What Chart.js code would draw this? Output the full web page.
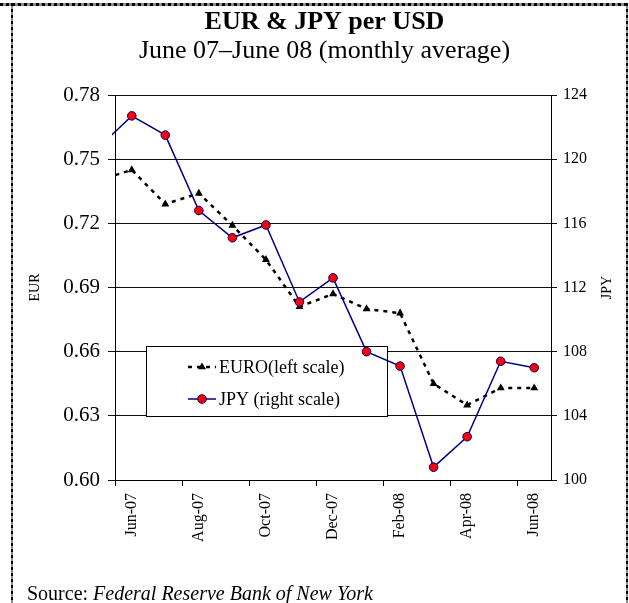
<!DOCTYPE html>
<html>
<head>
<meta charset="utf-8">
<title>EUR & JPY per USD</title>
<script src="https://cdn.jsdelivr.net/npm/chart.js@4.4.1/dist/chart.umd.min.js"></script>
<style>
  body { margin: 0; background: #fff; }
  canvas { display: block; }
</style>
</head>
<body>
<canvas id="fx" width="629" height="603"></canvas>
<script>
// monthly averages, May-07 sits just off the left edge of the plot
const months = ['May-07', 'Jun-07', 'Jul-07', 'Aug-07', 'Sep-07', 'Oct-07', 'Nov-07',
                'Dec-07', 'Jan-08', 'Feb-08', 'Mar-08', 'Apr-08', 'May-08', 'Jun-08'];
const euro = [0.740, 0.745, 0.729, 0.734, 0.719, 0.703, 0.681,
              0.687, 0.680, 0.678, 0.645, 0.635, 0.643, 0.643];
const jpy = [120.7, 122.7, 121.5, 116.8, 115.1, 115.9, 111.1,
             112.6, 108.0, 107.1, 100.8, 102.7, 107.4, 107.0];

const eurTicks = [0.60, 0.63, 0.66, 0.69, 0.72, 0.75, 0.78];
const jpyTicks = [100, 104, 108, 112, 116, 120, 124];
const labelSteps = [0, 2, 4, 6, 8, 10, 12];   // Jun-07, Aug-07, ... Jun-08

const serif = "'Liberation Serif', 'Times New Roman', serif";
Chart.defaults.font.family = serif;
Chart.defaults.color = '#000';

const toPoints = vals => vals.map((v, i) => ({ x: i - 1, y: v }));

// white page, tick marks between label pairs, axis titles, source line, dashed frame
const pageDecor = {
  id: 'pageDecor',
  beforeDraw(chart) {
    const ctx = chart.ctx;
    ctx.save();
    ctx.fillStyle = '#fff';
    ctx.fillRect(0, 0, chart.width, chart.height);
    ctx.restore();
  },
  afterDraw(chart) {
    const ctx = chart.ctx;
    const area = chart.chartArea;
    const xs = chart.scales.x;
    ctx.save();

    ctx.strokeStyle = '#000';
    ctx.lineWidth = 1;
    ctx.beginPath();
    for (let v = -0.5; v < 12; v += 2) {
      const px = Math.round(xs.getPixelForValue(v)) + 0.5;
      ctx.moveTo(px, area.bottom);
      ctx.lineTo(px, area.bottom + 6);
    }
    ctx.stroke();

    const mid = (area.top + area.bottom) / 2;
    ctx.fillStyle = '#000';
    ctx.font = '14px ' + serif;
    ctx.textAlign = 'center';
    ctx.textBaseline = 'middle';
    [['EUR', 35], ['JPY', 607]].forEach(([t, x]) => {
      ctx.save();
      ctx.translate(x, mid);
      ctx.rotate(-Math.PI / 2);
      ctx.fillText(t, 0, 0);
      ctx.restore();
    });

    ctx.textAlign = 'left';
    ctx.textBaseline = 'alphabetic';
    ctx.font = '20px ' + serif;
    const lead = 'Source: ';
    ctx.fillText(lead, 27, 600);
    const w = ctx.measureText(lead).width;
    ctx.font = 'italic 20px ' + serif;
    ctx.fillText('Federal Reserve Bank of New York', 27 + w, 600);

    const frame = (x1, y1, x2, y2, lw) => {
      ctx.lineWidth = lw;
      ctx.setLineDash([]);
      ctx.strokeStyle = '#8a8a8a';
      ctx.beginPath(); ctx.moveTo(x1, y1); ctx.lineTo(x2, y2); ctx.stroke();
      ctx.setLineDash([3, 3]);
      ctx.strokeStyle = '#000';
      ctx.beginPath(); ctx.moveTo(x1, y1); ctx.lineTo(x2, y2); ctx.stroke();
    };
    frame(0, 4.5, 628, 4.5, 3);
    frame(12, 3, 12, chart.height, 2);
    frame(627, 3, 627, chart.height, 2);

    ctx.restore();
  }
};

// boxed legend inside the plot, over the grid but under the series
const boxLegend = {
  id: 'boxLegend',
  beforeDatasetsDraw(chart) {
    const ctx = chart.ctx;
    const area = chart.chartArea;
    const left = area.left + 31, top = 346, w = 241, h = 70;
    ctx.save();
    ctx.fillStyle = '#fff';
    ctx.fillRect(left, top, w, h);
    ctx.strokeStyle = '#000';
    ctx.lineWidth = 1;
    ctx.strokeRect(left + 0.5, top + 0.5, w, h);

    const sx = left + 42, ex = left + 70, cx = left + 56, tx = left + 73;
    chart.data.datasets.forEach((ds, i) => {
      const y = i === 0 ? top + 21 : top + 53;
      ctx.strokeStyle = ds.borderColor;
      ctx.lineWidth = ds.borderWidth;
      ctx.setLineDash(ds.borderDash || []);
      ctx.beginPath();
      ctx.moveTo(sx, y);
      ctx.lineTo(ex, y);
      ctx.stroke();
      ctx.setLineDash([]);
      ctx.fillStyle = ds.pointBackgroundColor;
      ctx.beginPath();
      if (ds.pointStyle === 'triangle') {
        const r = ds.pointRadius;
        ctx.moveTo(cx, y - r);
        ctx.lineTo(cx + r * 0.87, y + r * 0.5);
        ctx.lineTo(cx - r * 0.87, y + r * 0.5);
        ctx.closePath();
        ctx.fill();
      } else {
        ctx.arc(cx, y, ds.pointRadius, 0, Math.PI * 2);
        ctx.fill();
        ctx.strokeStyle = ds.pointBorderColor;
        ctx.lineWidth = ds.pointBorderWidth;
        ctx.stroke();
      }
      ctx.fillStyle = '#000';
      ctx.font = '18px ' + serif;
      ctx.textBaseline = 'middle';
      ctx.fillText(ds.label, tx, y + 1);
    });
    ctx.restore();
  }
};

new Chart(document.getElementById('fx'), {
  type: 'line',
  data: {
    datasets: [
      {
        label: 'EURO(left scale)',
        data: toPoints(euro),
        yAxisID: 'yEur',
        borderColor: '#000',
        borderWidth: 2.5,
        borderDash: [4, 5],
        pointStyle: 'triangle',
        pointRadius: 4.6,
        pointBackgroundColor: '#000',
        pointBorderColor: '#000',
        pointBorderWidth: 0,
        tension: 0,
        order: 2,
        clip: { left: 3, top: false, right: false, bottom: false }
      },
      {
        label: 'JPY (right scale)',
        data: toPoints(jpy),
        yAxisID: 'yJpy',
        borderColor: '#000080',
        borderWidth: 1.5,
        pointStyle: 'circle',
        pointRadius: 4.3,
        pointBackgroundColor: '#ff0000',
        pointBorderColor: '#000080',
        pointBorderWidth: 1,
        tension: 0,
        order: 1,
        clip: { left: 3, top: false, right: false, bottom: false }
      }
    ]
  },
  options: {
    responsive: false,
    animation: false,
    events: [],
    layout: { padding: { left: 20, right: 0, top: 0, bottom: 0 } },
    plugins: {
      legend: { display: false },
      tooltip: { enabled: false },
      title: {
        display: true,
        text: 'EUR & JPY per USD',
        color: '#000',
        font: { size: 26, weight: 'bold', lineHeight: 1 },
        padding: { top: 9, bottom: 0 }
      },
      subtitle: {
        display: true,
        text: 'June 07\u2013June 08 (monthly average)',
        color: '#000',
        font: { size: 26, lineHeight: 1 },
        padding: { top: 3, bottom: 31 }
      }
    },
    scales: {
      x: {
        type: 'linear',
        min: -0.5,
        max: 12.5,
        afterBuildTicks: s => { s.ticks = labelSteps.map(v => ({ value: v })); },
        afterFit: s => { s.height = 123; },
        grid: { display: false, drawTicks: false },
        border: { display: true, color: '#000', width: 1 },
        ticks: {
          autoSkip: false,
          minRotation: 90,
          maxRotation: 90,
          padding: 13,
          font: { size: 16 },
          callback: v => months[v + 1]
        }
      },
      yEur: {
        type: 'linear',
        position: 'left',
        min: 0.60,
        max: 0.78,
        afterBuildTicks: s => { s.ticks = eurTicks.map(v => ({ value: v })); },
        afterFit: s => { s.width = 95; },
        grid: { color: '#111', lineWidth: 1, tickLength: 7 },
        border: { display: true, color: '#000', width: 1 },
        ticks: { padding: 8, font: { size: 21 }, callback: v => v.toFixed(2) }
      },
      yJpy: {
        type: 'linear',
        position: 'right',
        min: 100,
        max: 124,
        afterBuildTicks: s => { s.ticks = jpyTicks.map(v => ({ value: v })); },
        afterFit: s => { s.width = 78; },
        grid: { drawOnChartArea: false, color: '#111', tickLength: 6 },
        border: { display: true, color: '#000', width: 1 },
        ticks: { padding: 6, font: { size: 16 } }
      }
    }
  },
  plugins: [pageDecor, boxLegend]
});
</script>
</body>
</html>
